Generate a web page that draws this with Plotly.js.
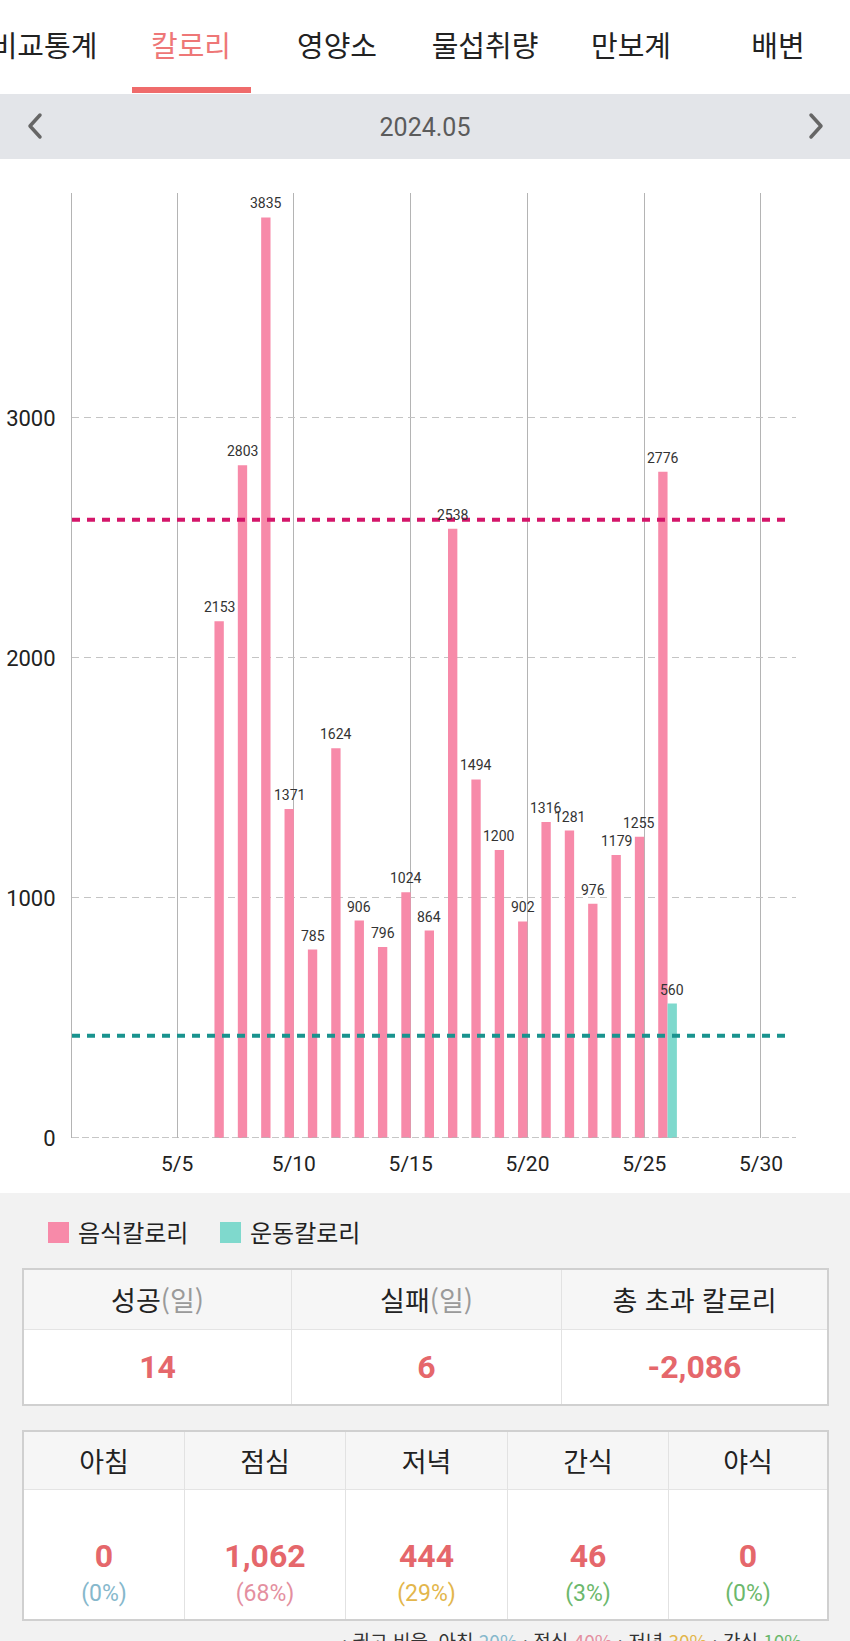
<!DOCTYPE html>
<html lang="ko">
<head>
<meta charset="utf-8">
<script src="https://cdn.plot.ly/plotly-3.0.1.min.js"></script>
<style>
  html, body { margin:0; padding:0; }
  body { width:850px; height:1641px; overflow:hidden; background:#f2f2f2; position:relative;
         font-family:"Noto Sans CJK KR","Noto Sans",Roboto,sans-serif; color:#222; }
  .abs { position:absolute; }
  #tabs { left:0; top:0; width:850px; height:94px; background:#fff; }
  .tab { position:absolute; top:22px; font-size:29px; line-height:44px; transform:translateX(-50%); white-space:nowrap; color:#222; }
  .tab.on { color:#ee7777; }
  #uline { left:132px; top:87px; width:119px; height:6px; background:#ef6b6b; }
  #datebar { left:0; top:94px; width:850px; height:65px; background:#e3e5e9; }
  #datetxt { left:0; width:850px; top:110px; text-align:center; font-family:Roboto,sans-serif; font-size:25px; line-height:36px; color:#5b5b5b; }
  #chartbg { left:0; top:159px; width:850px; height:1034px; background:#fff; }
  #chart { left:0; top:159px; width:850px; height:1034px; }
  .lg-sq { position:absolute; width:21px; height:21px; }
  .lg-tx { position:absolute; font-size:24px; line-height:30px; color:#222; }
  .tbl { position:absolute; left:22px; width:807px; box-sizing:border-box; border:2px solid #d0d0d0; background:#fff; display:grid; }
  .hd { background:#f6f6f6; border-bottom:1px solid #e4e4e4; display:flex; align-items:center; justify-content:center; font-size:27px; color:#222; }
  .cell { display:flex; align-items:center; justify-content:center; flex-direction:column; }
  .sep { border-right:1px solid #e2e2e2; }
  .num { font-family:Roboto,sans-serif; font-weight:700; font-size:32px; color:#e5676b; line-height:38px; }
  .pct { font-family:Roboto,sans-serif; font-size:23px; line-height:30px; margin-top:4px; }
  .gray { color:#9a9a9a; }
  #note { left:342px; top:1627px; font-size:19px; line-height:28px; color:#333; white-space:nowrap; }
</style>
</head>
<body>
<div id="tabs" class="abs">
  <span class="tab" style="left:44px">비교통계</span>
  <span class="tab on" style="left:191px">칼로리</span>
  <span class="tab" style="left:337px">영양소</span>
  <span class="tab" style="left:485px">물섭취량</span>
  <span class="tab" style="left:631px">만보계</span>
  <span class="tab" style="left:778px">배변</span>
</div>
<div id="uline" class="abs"></div>
<div id="datebar" class="abs"></div>
<svg class="abs" style="left:24px;top:112px" width="22" height="28"><path d="M16 3 L6 14 L16 25" fill="none" stroke="#666" stroke-width="3.5" stroke-linecap="round" stroke-linejoin="round"/></svg>
<svg class="abs" style="left:805px;top:112px" width="22" height="28"><path d="M6 3 L16 14 L6 25" fill="none" stroke="#666" stroke-width="3.5" stroke-linecap="round" stroke-linejoin="round"/></svg>
<div id="datetxt" class="abs">2024.05</div>
<div id="chartbg" class="abs"></div>
<div id="chart" class="abs"></div>

<div class="lg-sq" style="left:48px;top:1222px;background:#f78aa9"></div>
<div class="lg-tx" style="left:78px;top:1217px">음식칼로리</div>
<div class="lg-sq" style="left:220px;top:1222px;background:#7fd9cd"></div>
<div class="lg-tx" style="left:250px;top:1217px">운동칼로리</div>

<div class="tbl" style="top:1268px;height:138px;grid-template-columns:268px 270px 1fr;grid-template-rows:60px 1fr;">
  <div class="hd sep">성공<span class="gray">(일)</span></div>
  <div class="hd sep">실패<span class="gray">(일)</span></div>
  <div class="hd">총 초과 칼로리</div>
  <div class="cell sep"><span class="num">14</span></div>
  <div class="cell sep"><span class="num">6</span></div>
  <div class="cell"><span class="num">-2,086</span></div>
</div>

<div class="tbl" style="top:1430px;height:191px;grid-template-columns:161px 161px 162px 161px 1fr;grid-template-rows:58px 1fr;">
  <div class="hd sep">아침</div>
  <div class="hd sep">점심</div>
  <div class="hd sep">저녁</div>
  <div class="hd sep">간식</div>
  <div class="hd">야식</div>
  <div class="cell sep" style="padding-top:36px"><span class="num">0</span><span class="pct" style="color:#86b8cc">(0%)</span></div>
  <div class="cell sep" style="padding-top:36px"><span class="num">1,062</span><span class="pct" style="color:#e48fa0">(68%)</span></div>
  <div class="cell sep" style="padding-top:36px"><span class="num">444</span><span class="pct" style="color:#e3b64c">(29%)</span></div>
  <div class="cell sep" style="padding-top:36px"><span class="num">46</span><span class="pct" style="color:#6cb86c">(3%)</span></div>
  <div class="cell" style="padding-top:36px"><span class="num">0</span><span class="pct" style="color:#6cb86c">(0%)</span></div>
</div>

<div id="note" class="abs">· 권고 비율 &nbsp;아침 <span style="color:#86b8cc">20%</span> · 점심 <span style="color:#e48fa0">40%</span> · 저녁 <span style="color:#e3b64c">30%</span> · 간식 <span style="color:#6cb86c">10%</span></div>

<script>
// ---- data ----
const foodDays = [7, 8, 9, 10, 11, 12, 13, 14, 15, 16, 17, 18, 19, 20, 21, 22, 23, 24, 25, 26];
const foodKcal = [2153, 2803, 3835, 1371, 785, 1624, 906, 796, 1024, 864, 2538, 1494, 1200, 902, 1316, 1281, 976, 1179, 1255, 2776];
const exDays = [26];
const exKcal = [560];
const foodTarget = 2576;
const exTarget = 426;
const tickDays = [5, 10, 15, 20, 25, 30];
const tickLabels = ['5/5', '5/10', '5/15', '5/20', '5/25', '5/30'];
const yTicks = [0, 1000, 2000, 3000];
const seriesNames = ['음식칼로리', '운동칼로리'];

const food = {
  type: 'bar', name: seriesNames[0], x: foodDays, y: foodKcal,
  marker: { color: '#f78aa9' }, hoverinfo: 'x+y'
};
const ex = {
  type: 'bar', name: seriesNames[1], x: exDays, y: exKcal,
  marker: { color: '#7fd9cd' }, hoverinfo: 'x+y'
};

// value labels above bars (food bar sits left of the day, exercise bar right)
const barLabelFont = { family: 'Roboto, sans-serif', size: 14, color: '#333' };
function labels(days, vals, shift) {
  return days.map((d, i) => ({
    x: d, y: vals[i], xref: 'x', yref: 'y', text: String(vals[i]),
    showarrow: false, yanchor: 'bottom', xanchor: 'center',
    xshift: shift, yshift: 4, font: barLabelFont
  }));
}

const layout = {
  width: 850, height: 1034,
  margin: { l: 72, r: 54, t: 34, b: 55 },
  paper_bgcolor: '#ffffff', plot_bgcolor: '#ffffff',
  showlegend: false,
  barmode: 'group', bargap: 0.2, bargroupgap: 0,
  font: { family: 'Roboto, sans-serif', color: '#222' },
  xaxis: {
    range: [0.5, 31.5], tickmode: 'array', tickvals: tickDays, ticktext: tickLabels,
    showgrid: true, gridcolor: '#b4b4b4', gridwidth: 1,
    zeroline: false, showline: false, ticks: '',
    tickfont: { size: 21, color: '#222' }, ticklabelstandoff: 11, fixedrange: true
  },
  yaxis: {
    range: [0, 3937], tickmode: 'array', tickvals: yTicks,
    showgrid: true, gridcolor: '#c4c4c4', gridwidth: 1, griddash: '7px,5px',
    zeroline: false, showline: true, linecolor: '#b4b4b4', linewidth: 1, ticks: '',
    tickfont: { size: 22, color: '#222' }, ticklabelstandoff: 11, fixedrange: true
  },
  annotations: labels(foodDays, foodKcal, -4.7).concat(labels(exDays, exKcal, 4.7)),
  shapes: [
    { type: 'line', xref: 'paper', x0: 0, x1: 1, yref: 'y', y0: 0, y1: 0,
      line: { color: '#b4b4b4', width: 1.5, dash: '7px,3px' }, layer: 'above' },
    { type: 'line', xref: 'paper', x0: 0, x1: 0.9927, yref: 'y', y0: foodTarget, y1: foodTarget,
      line: { color: '#d4166a', width: 4, dash: '8px,7px' }, layer: 'above' },
    { type: 'line', xref: 'paper', x0: 0, x1: 0.9927, yref: 'y', y0: exTarget, y1: exTarget,
      line: { color: '#19938e', width: 4, dash: '8px,7px' }, layer: 'above' }
  ]
};

Plotly.newPlot('chart', [food, ex], layout, { displayModeBar: false, staticPlot: true });
</script>
</body>
</html>
